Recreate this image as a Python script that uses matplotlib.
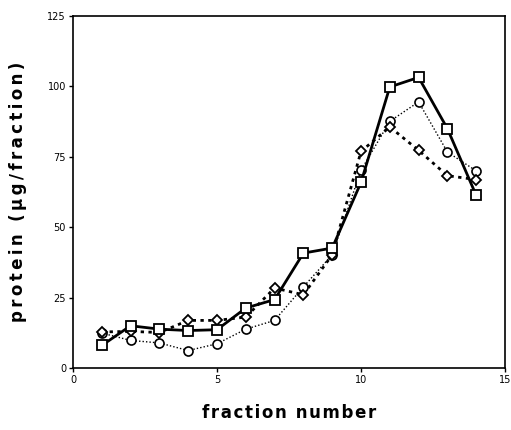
import matplotlib
matplotlib.use("Agg")
import matplotlib.pyplot as plt

fractions = [1, 2, 3, 4, 5, 6, 7, 8, 9, 10, 11, 12, 13, 14]
squares = [8.0, 15.0, 13.8, 13.3, 13.6, 21.3, 24.3, 40.8, 42.6, 65.9, 99.8, 103.2, 85.0, 61.3]
circles = [12.4, 9.8, 8.9, 6.2, 8.6, 13.8, 16.9, 28.8, 40.2, 70.2, 87.6, 94.5, 76.7, 70.0]
diamonds = [12.8, 13.0, 12.6, 16.9, 16.9, 18.1, 28.4, 26.0, 40.2, 76.9, 85.6, 77.3, 68.3, 66.9]
yticks = [0, 25, 50, 75, 100, 125]
xticks = [0, 5, 10, 15]

fig = plt.figure(figsize=(5.11, 4.30), dpi=100)
ax = fig.add_axes([73/511, 62/430, 432/511, 352/430])

ax.plot(fractions, circles, color='black', lw=1.0, linestyle=(0, (1, 1.5)),
        marker='o', markersize=6.5, markerfacecolor='white', markeredgecolor='black',
        markeredgewidth=1.2, zorder=3)
ax.plot(fractions, diamonds, color='black', lw=2.0, linestyle=(0, (1.2, 1.6)),
        marker='D', markersize=5.5, markerfacecolor='white', markeredgecolor='black',
        markeredgewidth=1.3, zorder=4)
ax.plot(fractions, squares, color='black', lw=2.0, linestyle='-',
        marker='s', markersize=6.5, markerfacecolor='white', markeredgecolor='black',
        markeredgewidth=1.3, zorder=5)

ax.set_xlim(0, 15)
ax.set_ylim(0, 125)
ax.set_xticks(xticks)
ax.set_yticks(yticks)
ax.tick_params(direction='out', length=3, width=1, labelsize=7, pad=2)
for s in ax.spines.values():
    s.set_linewidth(1.2)

hs = '\u200a'
ts = '\u2009'
ax.set_xlabel(hs.join('fraction number'), fontsize=12, fontweight='bold', labelpad=14)
ax.set_ylabel(ts.join('protein (µg/fraction)'), fontsize=12, fontweight='bold', labelpad=15)

fig.savefig('out.png', dpi=100)
